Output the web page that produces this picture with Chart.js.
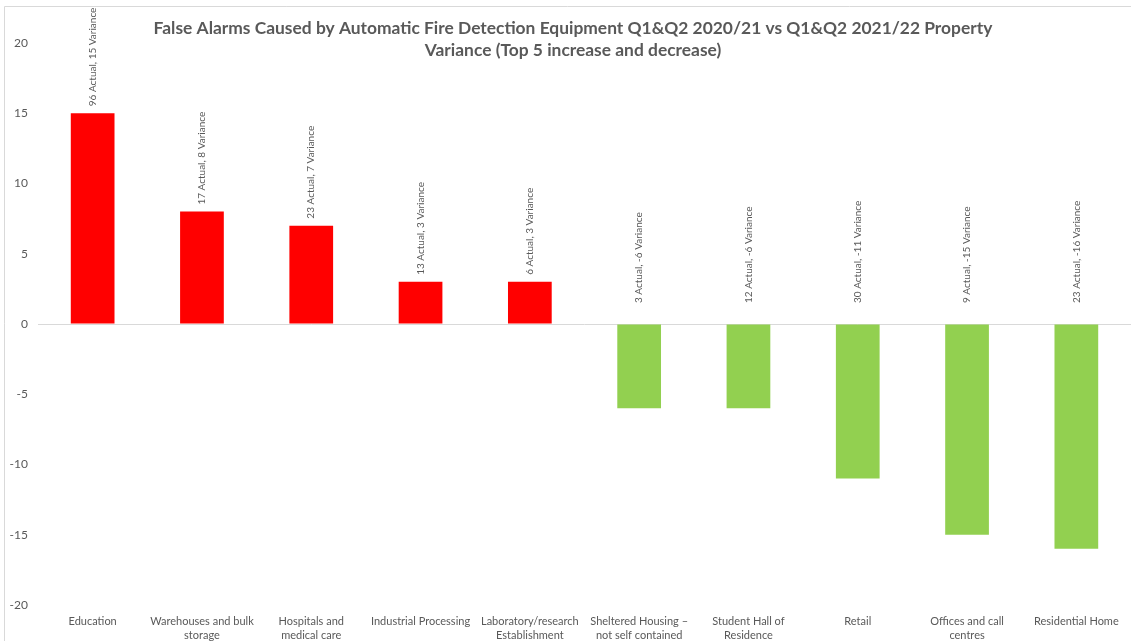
<!DOCTYPE html>
<html>
<head>
<meta charset="utf-8">
<script src="https://cdn.jsdelivr.net/npm/chart.js@4"></script>
<style>
  html, body { margin: 0; padding: 0; background: #fff; }
  #wrap { position: relative; width: 1131px; height: 641px; }
</style>
</head>
<body>
<div id="wrap"><canvas id="variancia"></canvas></div>
<script>
/* ===================== DATOS ===================== */
const categorias = [
  "Education",
  ["Warehouses and bulk", "storage"],
  ["Hospitals and", "medical care"],
  "Industrial Processing",
  ["Laboratory/research", "Establishment"],
  ["Sheltered Housing \u2013", "not self contained"],
  ["Student Hall of", "Residence"],
  "Retail",
  ["Offices and call", "centres"],
  "Residential Home",
];
const actual = [96, 17, 23, 13, 6, 3, 12, 30, 9, 23];
const variance = [15, 8, 7, 3, 3, -6, -6, -11, -15, -16];
const ticksY = [-20, -15, -10, -5, 0, 5, 10, 15, 20];
const titulo = [
  "False Alarms Caused by Automatic Fire Detection Equipment Q1&Q2 2020/21 vs Q1&Q2 2021/22 Property",
  "Variance (Top 5 increase and decrease)",
];

const FUENTE = "Lato, 'Open Sans', sans-serif";
const GRIS = "#595959";
const ROJO = "#FF0000";
const VERDE = "#92D050";

/* ===================== MARCO + TITULO ===================== */
const marcoTitulo = {
  id: "marcoTitulo",
  beforeDraw(chart) {
    const c = chart.ctx;
    c.save();
    c.strokeStyle = "#d9d9d9";
    c.lineWidth = 1;
    c.beginPath();
    c.moveTo(4.5, chart.height);
    c.lineTo(4.5, 6.5);
    c.lineTo(chart.width, 6.5);
    c.stroke();
    c.restore();
  },
  afterDraw(chart) {
    const c = chart.ctx;
    c.save();
    c.fillStyle = GRIS;
    c.font = `bold 17.4px ${FUENTE}`;
    c.textAlign = "center";
    c.textBaseline = "middle";
    titulo.forEach((linea, i) => c.fillText(linea, 573, 28 + i * 22));
    c.restore();
  },
};

/* ===================== ETIQUETAS VERTICALES ===================== */
const etiquetasBarras = {
  id: "etiquetasBarras",
  afterDatasetsDraw(chart) {
    const c = chart.ctx;
    const meta = chart.getDatasetMeta(0);
    const y = chart.scales.y;
    c.save();
    c.fillStyle = GRIS;
    c.font = `10px ${FUENTE}`;
    c.textAlign = "left";
    c.textBaseline = "middle";
    meta.data.forEach((bar, i) => {
      const v = variance[i];
      const base = y.getPixelForValue(Math.max(v, 0)) - (v >= 0 ? 7 : 21);
      c.save();
      c.translate(bar.x, base);
      c.rotate(-Math.PI / 2);
      c.fillText(`${actual[i]} Actual, ${v} Variance`, 0, 0);
      c.restore();
    });
    c.restore();
  },
};

/* ===================== GRAFICO ===================== */
new Chart(document.getElementById("variancia"), {
  type: "bar",
  data: {
    labels: categorias,
    datasets: [
      {
        label: "Variance",
        data: variance,
        backgroundColor: variance.map((v) => (v >= 0 ? ROJO : VERDE)),
        barPercentage: 0.4,
        categoryPercentage: 1,
      },
    ],
  },
  plugins: [marcoTitulo, etiquetasBarras],
  options: {
    responsive: true,
    maintainAspectRatio: false,
    animation: false,
    layout: { padding: { top: 43, left: 0, right: 0, bottom: 0 } },
    plugins: {
      legend: { display: false },
      title: { display: false },
      tooltip: { enabled: false },
    },
    scales: {
      x: {
        grid: { display: false },
        border: { display: false },
        ticks: {
          color: GRIS,
          font: { family: FUENTE, size: 11, lineHeight: 1.27 },
          padding: 1,
          maxRotation: 0,
          autoSkip: false,
        },
        afterFit: (s) => { s.height = 36; },
      },
      y: {
        min: -20,
        max: 20,
        afterBuildTicks: (s) => { s.ticks = ticksY.map((v) => ({ value: v })); },
        grid: {
          color: (ctx) => (ctx.tick && ctx.tick.value === 0 ? "#d9d9d9" : "rgba(0,0,0,0)"),
          drawTicks: false,
        },
        border: { display: false },
        ticks: {
          color: GRIS,
          font: { family: FUENTE, size: 12 },
          padding: 10,
        },
        afterFit: (s) => { s.width = 38; },
      },
    },
  },
});
</script>
</body>
</html>
